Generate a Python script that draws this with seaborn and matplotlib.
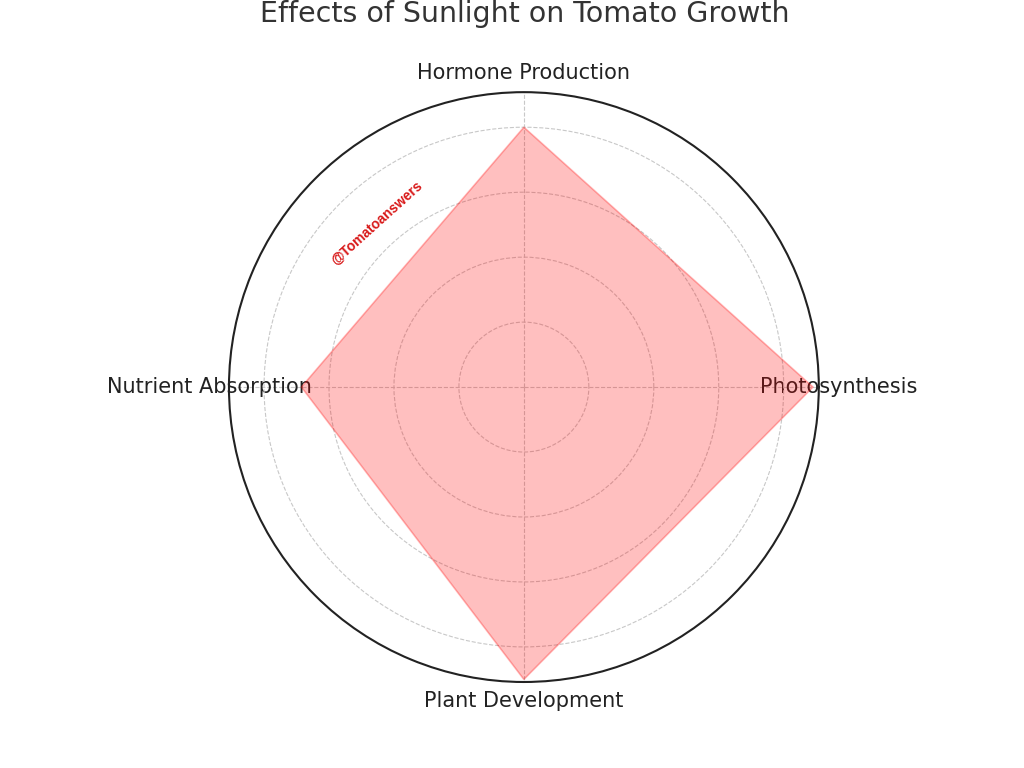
import numpy as np
import seaborn as sns
import matplotlib.pyplot as plt

# datos del radar
categories = ["Photosynthesis", "Hormone Production", "Nutrient Absorption", "Plant Development"]
values = [8.9, 8, 6.85, 9]
ring_ticks = [2, 4, 6, 8]

sns.set_theme(style="whitegrid")
plt.rcParams['font.family'] = ['DejaVu Sans']

angles = np.linspace(0, 2 * np.pi, len(categories), endpoint=False).tolist()
vals = values + values[:1]
angs = angles + angles[:1]

fig = plt.figure(figsize=(10.24, 7.68), dpi=100)
ax = fig.add_axes([0.2236, 0.112, 0.576, 0.768], polar=True)

ax.fill(angs, vals, color="red", alpha=0.25, zorder=3)
ax.plot(angs, vals, color="red", alpha=0.08, linewidth=1.5, zorder=3)

ax.set_ylim(0, 9.08)
ax.set_yticks(ring_ticks)
ax.set_yticklabels([])
ax.set_xticks(angles)
ax.set_xticklabels(categories, fontsize=15, color="#222222")
ax.tick_params(axis="x", pad=1)
ax.grid(True, color="#c8c8c8", linestyle="--", linewidth=0.8)
ax.spines["polar"].set_color("#222222")
ax.spines["polar"].set_linewidth(1.5)

fig.text(0.512, 1 - 14 / 768, "Effects of Sunlight on Tomato Growth", fontsize=20.5,
         color="#333333", ha="center", va="center")

fig.text(0.368, 0.71, "@Tomatoanswers", color="#d81818", fontsize=10, fontweight="bold",
         family=["Liberation Sans"], rotation=42, ha="center", va="center")

fig.savefig("out.png", dpi=100)
